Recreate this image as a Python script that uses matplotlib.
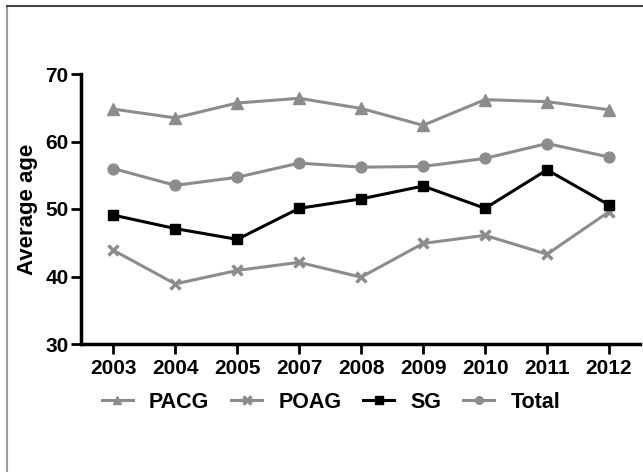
import matplotlib
matplotlib.use("Agg")
import matplotlib.pyplot as plt
from matplotlib.lines import Line2D

years = ["2003", "2004", "2005", "2007", "2008", "2009", "2010", "2011", "2012"]
pacg = [64.8, 63.5, 65.7, 66.4, 64.9, 62.4, 66.2, 65.9, 64.7]
poag = [43.9, 38.9, 40.9, 42.1, 39.9, 44.9, 46.1, 43.3, 49.6]
sg = [49.1, 47.1, 45.5, 50.1, 51.5, 53.4, 50.1, 55.8, 50.6]
total = [56.0, 53.5, 54.7, 56.8, 56.2, 56.3, 57.5, 59.7, 57.7]

plt.rcParams['font.family'] = ['Liberation Sans', 'DejaVu Sans']
plt.rcParams['font.weight'] = 'bold'

W, H = 643, 472
fig = plt.figure(figsize=(W / 100, H / 100), dpi=100)
ax = fig.add_axes([81 / W, 1 - 344 / H, (640 - 81) / W, (344 - 74) / H])

gray = '#8c8c8c'
x = list(range(len(years)))
ax.plot(x, pacg, color=gray, marker='^', markersize=8.5, lw=2.2, label='PACG')
ax.plot(x, poag, color=gray, marker='x', markersize=7.5, mew=2.5, lw=2.2, label='POAG')
ax.plot(x, sg, color='black', marker='s', markersize=7.8, lw=2.2, label='SG')
ax.plot(x, total, color=gray, marker='o', markersize=7.8, lw=2.2, label='Total')

ax.set_xlim(-0.52, 8.5)
ax.set_ylim(30, 70)
ax.set_yticks([30, 40, 50, 60, 70])
ax.set_xticks(x)
ax.set_xticklabels(years)
for s in ['top', 'right']:
    ax.spines[s].set_visible(False)
for s in ['left', 'bottom']:
    ax.spines[s].set_linewidth(2.5)
ax.tick_params(axis='both', width=2, length=7, labelsize=15)
ax.tick_params(axis='x', pad=4)
ax.tick_params(axis='y', pad=2)
for lab in ax.get_xticklabels() + ax.get_yticklabels():
    lab.set_fontweight('bold')
ax.set_ylabel('Average age', fontsize=16, fontweight='bold', labelpad=5)

leg = ax.legend(loc='center', bbox_to_anchor=(0.447, 1 - (402 - 74) / 270), ncol=4,
                frameon=False, fontsize=15.5, handlelength=1.45, columnspacing=1.0,
                handletextpad=0.75, markerscale=0.7, borderaxespad=0)
for t in leg.get_texts():
    t.set_fontweight('bold')

fig.add_artist(Line2D([7 / W, 7 / W], [0, 1 - 6 / H], transform=fig.transFigure, color='#999999', lw=1.5))
fig.add_artist(Line2D([7 / W, 1], [1 - 6 / H, 1 - 6 / H], transform=fig.transFigure, color='#444444', lw=1.5))

fig.savefig('out.png', dpi=100)
